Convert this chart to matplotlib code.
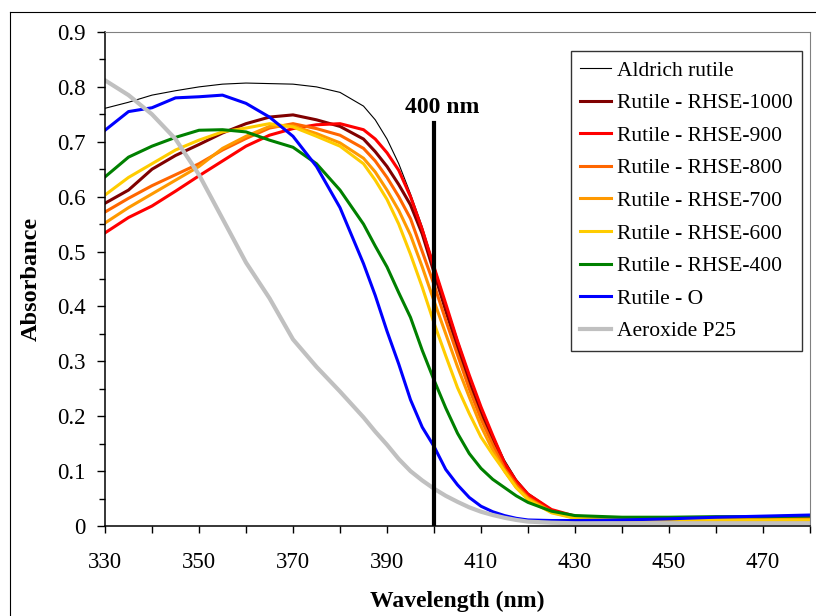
import matplotlib
matplotlib.use("Agg")
import matplotlib.pyplot as plt
from matplotlib.lines import Line2D
from matplotlib.ticker import MultipleLocator, FuncFormatter

plt.rcParams["font.family"] = ["Liberation Serif", "DejaVu Serif"]

# ---------------- data ---------------- #
wavelength = [330, 335, 340, 345, 350, 355, 360, 365, 370, 375, 380, 385,
              387.5, 390, 392.5, 395, 397.5, 400, 402.5, 405, 407.5, 410,
              412.5, 415, 417.5, 420, 425, 430, 440, 450, 460, 470, 480]

aldrich = [0.761, 0.772, 0.785, 0.793, 0.800, 0.805, 0.807, 0.806, 0.805, 0.800, 0.790, 0.765,
           0.740, 0.705, 0.660, 0.605, 0.545, 0.475, 0.405, 0.340, 0.275, 0.215,
           0.165, 0.120, 0.085, 0.060, 0.030, 0.018, 0.013, 0.012, 0.012, 0.012, 0.012]
rhse_1000 = [0.588, 0.612, 0.650, 0.675, 0.695, 0.716, 0.733, 0.745, 0.749, 0.740, 0.728, 0.705,
             0.682, 0.655, 0.622, 0.585, 0.532, 0.462, 0.392, 0.325, 0.262, 0.205,
             0.155, 0.110, 0.078, 0.055, 0.028, 0.017, 0.013, 0.012, 0.012, 0.012, 0.012]
rhse_900 = [0.534, 0.562, 0.583, 0.610, 0.638, 0.665, 0.692, 0.712, 0.724, 0.731, 0.733, 0.722,
            0.705, 0.680, 0.648, 0.600, 0.540, 0.472, 0.405, 0.337, 0.275, 0.217,
            0.165, 0.115, 0.082, 0.058, 0.030, 0.018, 0.014, 0.013, 0.013, 0.013, 0.013]
rhse_800 = [0.572, 0.597, 0.620, 0.640, 0.660, 0.685, 0.706, 0.725, 0.733, 0.724, 0.712, 0.688,
            0.665, 0.635, 0.600, 0.560, 0.500, 0.440, 0.375, 0.312, 0.250, 0.195,
            0.148, 0.105, 0.075, 0.052, 0.026, 0.015, 0.011, 0.011, 0.011, 0.011, 0.011]
rhse_700 = [0.552, 0.580, 0.605, 0.630, 0.655, 0.688, 0.710, 0.728, 0.729, 0.715, 0.698, 0.670,
            0.645, 0.612, 0.575, 0.530, 0.472, 0.410, 0.350, 0.290, 0.235, 0.182,
            0.138, 0.100, 0.070, 0.050, 0.025, 0.015, 0.011, 0.011, 0.011, 0.011, 0.011]
rhse_600 = [0.603, 0.635, 0.660, 0.685, 0.703, 0.718, 0.725, 0.733, 0.727, 0.710, 0.692, 0.660,
            0.630, 0.595, 0.550, 0.495, 0.435, 0.370, 0.310, 0.252, 0.205, 0.162,
            0.130, 0.100, 0.070, 0.048, 0.024, 0.014, 0.011, 0.011, 0.011, 0.011, 0.011]
rhse_400 = [0.636, 0.672, 0.692, 0.708, 0.721, 0.722, 0.718, 0.703, 0.690, 0.660, 0.612, 0.550,
            0.510, 0.472, 0.425, 0.380, 0.320, 0.266, 0.215, 0.169, 0.132, 0.105,
            0.085, 0.070, 0.055, 0.043, 0.027, 0.019, 0.016, 0.016, 0.017, 0.017, 0.018]
rutile_o = [0.721, 0.755, 0.762, 0.780, 0.782, 0.785, 0.770, 0.745, 0.710, 0.655, 0.580, 0.478,
            0.420, 0.355, 0.295, 0.230, 0.180, 0.145, 0.103, 0.075, 0.052, 0.036,
            0.026, 0.019, 0.014, 0.011, 0.010, 0.010, 0.011, 0.013, 0.016, 0.018, 0.020]
p25 = [0.812, 0.785, 0.750, 0.705, 0.640, 0.560, 0.480, 0.415, 0.340, 0.290, 0.245, 0.198,
       0.172, 0.148, 0.122, 0.100, 0.083, 0.068, 0.055, 0.044, 0.034, 0.026,
       0.020, 0.015, 0.011, 0.008, 0.006, 0.005, 0.005, 0.005, 0.005, 0.005, 0.005]

series = [
    ("Aldrich rutile", aldrich, "#000000", 0.8),
    ("Rutile - RHSE-1000", rhse_1000, "#800000", 2.2),
    ("Rutile - RHSE-900", rhse_900, "#FF0000", 2.2),
    ("Rutile - RHSE-800", rhse_800, "#FF6600", 2.2),
    ("Rutile - RHSE-700", rhse_700, "#FF9900", 2.2),
    ("Rutile - RHSE-600", rhse_600, "#FFCC00", 2.2),
    ("Rutile - RHSE-400", rhse_400, "#008000", 2.2),
    ("Rutile - O", rutile_o, "#0000FF", 2.2),
    ("Aeroxide P25", p25, "#C0C0C0", 3.0),
]

marker_wl = 400
marker_top = 0.735

# ---------------- figure ---------------- #
fig = plt.figure(figsize=(8.16, 6.16), dpi=100)
ax = fig.add_axes([105 / 816, 90 / 616, 705 / 816, 494 / 616])

for label, values, color, lw in series:
    ax.plot(wavelength, values, color=color, linewidth=lw, label=label)

ax.plot([marker_wl, marker_wl], [0, marker_top], color="black", linewidth=3, zorder=5)
ax.text(marker_wl + 1.7, 0.763, "400 nm", ha="center", va="center",
        fontsize=17, fontweight="bold")

ax.set_xlim(330, 480)
ax.set_ylim(0, 0.9)
ax.set_xticks(range(330, 480, 20))
ax.xaxis.set_minor_locator(MultipleLocator(10))
ax.yaxis.set_major_locator(MultipleLocator(0.1))
ax.yaxis.set_minor_locator(MultipleLocator(0.05))
ax.yaxis.set_major_formatter(FuncFormatter(lambda v, p: "0" if abs(v) < 1e-9 else f"{v:.1f}"))

ax.tick_params(axis="x", which="both", direction="out", length=5, width=1,
               labelsize=16.5, pad=14)
ax.tick_params(axis="y", which="major", direction="out", length=6, width=1,
               labelsize=16.5, pad=8)
ax.tick_params(axis="y", which="minor", direction="out", length=4, width=1)

ax.spines["top"].set_color("#808080")
ax.spines["right"].set_color("#808080")
for side in ["left", "bottom"]:
    ax.spines[side].set_linewidth(1.1)

ax.set_xlabel("Wavelength (nm)", fontsize=17, fontweight="bold")
ax.xaxis.set_label_coords(0.5, -0.132)
ax.set_ylabel("Absorbance", fontsize=17.5, fontweight="bold")
ax.yaxis.set_label_coords(-0.089, 0.5)

leg = ax.legend(loc="upper right", bbox_to_anchor=(0.9887, 0.9615), borderaxespad=0,
                fontsize=15.5, frameon=True, fancybox=False, edgecolor="black",
                handlelength=1.4, handletextpad=0.28, labelspacing=0.58, borderpad=0.45)
leg.get_frame().set_linewidth(1)

# outer chart border (cropped at right and bottom)
fig.add_artist(Line2D([10 / 816, 10 / 816], [0, 1 - 12 / 616], color="black", linewidth=0.8))
fig.add_artist(Line2D([10 / 816, 1], [1 - 12 / 616, 1 - 12 / 616], color="black", linewidth=0.8))

fig.savefig("out.png", dpi=100)
